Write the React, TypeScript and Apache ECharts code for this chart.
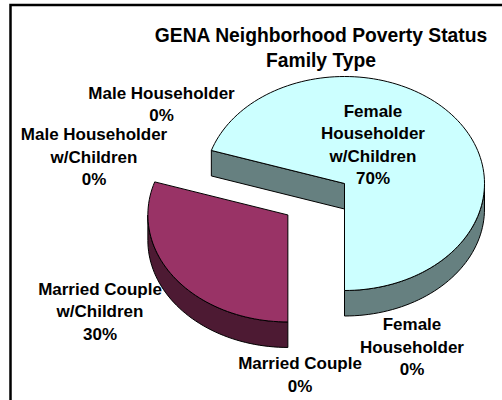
import React, { useEffect, useRef } from "react";
import * as echarts from "echarts";

const categories = [
  "Female Householder w/Children",
  "Female Householder",
  "Married Couple",
  "Married Couple w/Children",
  "Male Householder w/Children",
  "Male Householder",
];
const values = [70, 0, 0, 30, 0, 0];
const labelLines = [
  ["Female", "Householder", "w/Children"],
  ["Female", "Householder"],
  ["Married Couple"],
  ["Married Couple", "w/Children"],
  ["Male Householder", "w/Children"],
  ["Male Householder"],
];
const topColors = ["#CCFFFF", "#CCFFFF", "#CCFFFF", "#993366", "#CCFFFF", "#CCFFFF"];
const sideColors = ["#668080", "#668080", "#668080", "#4D1A33", "#668080", "#668080"];
const titleLines = "GENA Neighborhood Poverty Status\nFamily Type";

const CX = 344.5, CY = 183.5, RX = 140, RY = 107, DEPTH = 25.5, START = -72, EXPLODE = 0.5;
const FONT = "Liberation Sans";
const labelCenters: number[][] = [
  [373, 145], [412, 347], [300, 375], [100, 311.5], [94, 157], [161.5, 104.5],
];
const LH = 22.5;
const explodedIndex = new Set([3]);

function ellipseArc(cx: number, cy: number, a0: number, a1: number) {
  const pts: number[][] = [];
  const n = Math.max(2, Math.ceil(Math.abs(a1 - a0) / 2));
  for (let i = 0; i <= n; i++) {
    const t = ((a0 + ((a1 - a0) * i) / n) * Math.PI) / 180;
    pts.push([cx + RX * Math.sin(t), cy - RY * Math.cos(t)]);
  }
  return pts;
}
const toD = (pts: number[][], close = true) =>
  "M" + pts.map((p) => p[0].toFixed(2) + " " + p[1].toFixed(2)).join("L") + (close ? "Z" : "");

export default function App() {
  const ref = useRef<HTMLDivElement>(null);
  useEffect(() => {
    const chart = echarts.init(ref.current!, null, { renderer: "svg" });
    const total = values.reduce((a, b) => a + b, 0);
    const spans: number[][] = [];
    let acc = START;
    values.forEach((v) => {
      const s = (v / total) * 360;
      spans.push([acc, acc + s]);
      acc += s;
    });
    const stroke = { stroke: "#000", lineWidth: 1 };
    chart.setOption({
      animation: false,
      backgroundColor: "#fff",
      title: {
        text: titleLines,
        left: 316,
        top: 18,
        textAlign: "center",
        textStyle: { fontFamily: FONT, fontSize: 19.3, fontWeight: "bold", color: "#000", lineHeight: 25, align: "center" },
      },
      graphic: [
        { type: "rect", shape: { x: 10.5, y: 5, width: 600, height: 600 }, style: { fill: "none", stroke: "#000", lineWidth: 2.5 }, silent: true },
      ],
      series: [
        {
          type: "custom",
          coordinateSystem: "none",
          silent: true,
          data: values.map((v, i) => [i, v]),
          renderItem: (_p: any, api: any) => {
            const i = api.value(0);
            const v = api.value(1);
            const [a0, a1] = spans[i];
            const children: any[] = [];
            const mid = (((a0 + a1) / 2) * Math.PI) / 180;
            const ex = explodedIndex.has(i) ? EXPLODE : 0;
            const cx = CX + RX * ex * Math.sin(mid);
            const cy = CY - RY * ex * Math.cos(mid);
            if (v > 0) {
              const arc = ellipseArc(cx, cy, a0, a1);
              const lo = Math.max(a0, 90), hi = Math.min(a1, 270);
              if (hi > lo) {
                const front = ellipseArc(cx, cy, lo, hi);
                const lower = front.map((p) => [p[0], p[1] + DEPTH]).reverse();
                children.push({ type: "path", shape: { pathData: toD(front.concat(lower)) }, style: { fill: sideColors[i], ...stroke } });
              }
              const t = (a0 * Math.PI) / 180;
              const p = [cx + RX * Math.sin(t), cy - RY * Math.cos(t)];
              if (p[0] < cx) {
                children.push({
                  type: "path",
                  shape: { pathData: toD([[cx, cy], p, [p[0], p[1] + DEPTH], [cx, cy + DEPTH]]) },
                  style: { fill: sideColors[i], ...stroke },
                });
              }
              children.push({ type: "path", shape: { pathData: toD([[cx, cy], ...arc]) }, style: { fill: topColors[i], ...stroke } });
            }
            const [lx, ly] = labelCenters[i];
            const pct = Math.round((v / total) * 100) + "%";
            children.push({
              type: "text",
              x: lx,
              y: ly,
              style: {
                text: [...labelLines[i], pct].join("\n"),
                fontFamily: FONT,
                fontSize: 17,
                fontWeight: "bold",
                fill: "#000",
                align: "center",
                verticalAlign: "middle",
                lineHeight: LH,
              },
            });
            return { type: "group", children };
          },
        },
      ],
    });
    return () => chart.dispose();
  }, []);
  return <div ref={ref} style={{ position: "fixed", left: 0, top: 0, width: 502, height: 400 }} />;
}
